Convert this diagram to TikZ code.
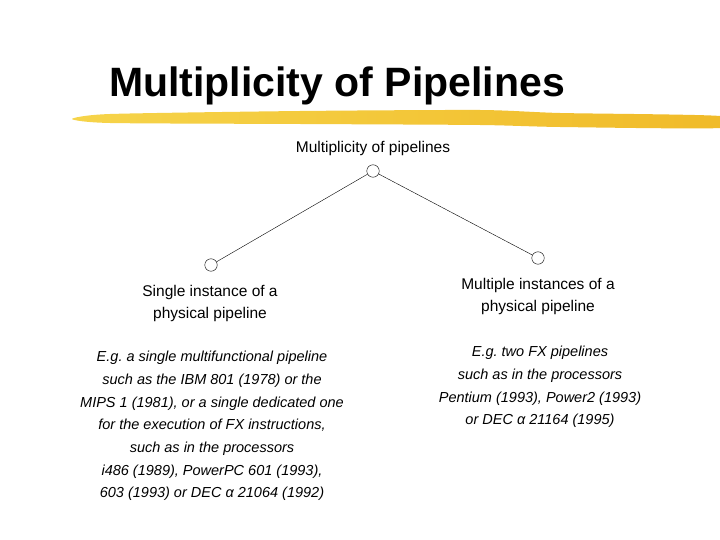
\documentclass[tikz,border=0pt]{standalone}
\usepackage{fontspec}
\setmainfont{Liberation Sans}
\usetikzlibrary{positioning}
\definecolor{brushlight}{HTML}{F6D44A}
\definecolor{brushdark}{HTML}{F0BA28}
\frenchspacing

\begin{document}
\begin{tikzpicture}[x=1pt,y=-1pt,
  dot/.style={circle,draw,thin,fill=white,minimum size=12.5pt,inner sep=0pt},
  lab/.style={align=center,inner sep=0pt,font=\fontsize{15.5}{22}\selectfont},
  example/.style={align=center,inner sep=0pt,font=\fontsize{14.5}{22.7}\selectfont\itshape}]
\useasboundingbox[fill=white] (0,0) rectangle (720,540);
% title and yellow stroke
\node[anchor=base,font=\fontsize{41}{41}\selectfont\bfseries] (title) at (337,97) {Multiplicity of Pipelines};
\shade[left color=brushlight,right color=brushdark] plot[smooth cycle,tension=0.4] coordinates {(72,119)(110,114)(300,111)(480,110)(560,113)(720,116)(720,128)(560,127)(480,125)(300,124)(110,123)};
% tree
\node[lab] (root) at (373,148) {Multiplicity of pipelines};
\node[dot] (top) at (373,171) {};
\node[dot] (single) at (211,265) {};
\node[dot] (multi) at (538,258) {};
\draw (top)--(single);
\draw (top)--(multi);
\node[lab] (singlelab) at (210,303) {Single instance of a\\physical pipeline};
\node[lab] (multilab) at (538,296) {Multiple instances of a\\physical pipeline};
% examples
\node[example] (singleex) at (212,426) {E.g. a single multifunctional pipeline\\such as the IBM 801 (1978) or the\\MIPS 1 (1981), or a single dedicated one\\for the execution of FX instructions,\\such as in the processors\\i486 (1989), PowerPC 601 (1993),\\603 (1993) or DEC α 21064 (1992)};
\node[example] (multiex) at (540,387) {E.g. two FX pipelines\\such as in the processors\\Pentium (1993), Power2 (1993)\\or DEC α 21164 (1995)};
\end{tikzpicture}
\end{document}
